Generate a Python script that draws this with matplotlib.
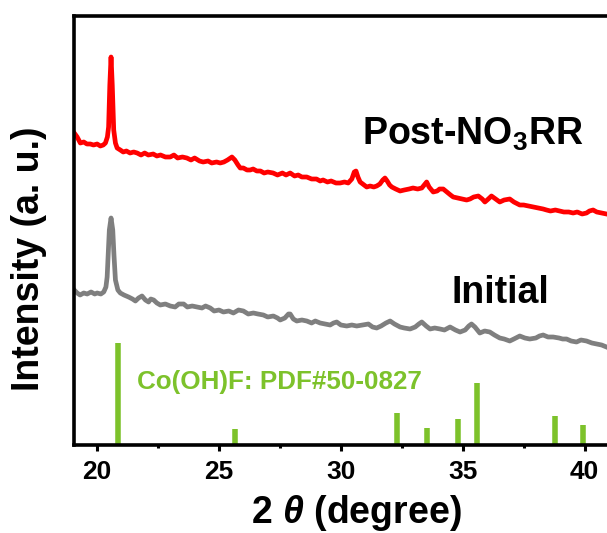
import numpy as np
import matplotlib
matplotlib.use('Agg')
import matplotlib.pyplot as plt

plt.rcParams['font.family'] = ['Liberation Sans', 'DejaVu Sans']
plt.rcParams['font.weight'] = 'bold'
plt.rcParams['mathtext.fontset'] = 'custom'
plt.rcParams['mathtext.rm'] = 'Liberation Sans:bold'
plt.rcParams['mathtext.bf'] = 'Liberation Sans:bold'
plt.rcParams['mathtext.it'] = 'Liberation Sans:italic:bold'

# Post-NO3RR pattern (red)
post_x = [19.06, 19.18, 19.31, 19.45, 19.58, 19.72, 19.85, 20.00, 20.13, 20.25, 20.34, 20.42,
          20.47, 20.52, 20.57, 20.62, 20.68, 20.75, 20.82, 20.95, 21.07, 21.20, 21.35, 21.50,
          21.64, 21.80, 21.95, 22.10, 22.30, 22.45, 22.60, 22.80, 23.00, 23.15, 23.30, 23.50,
          23.68, 23.85, 24.00, 24.20, 24.35, 24.55, 24.70, 24.90, 25.05, 25.20, 25.35, 25.53,
          25.65, 25.78, 25.87, 26.00, 26.15, 26.28, 26.40, 26.55, 26.70, 26.85, 27.00, 27.22,
          27.40, 27.60, 27.75, 27.92, 28.10, 28.25, 28.40, 28.60, 28.80, 29.00, 29.15, 29.27,
          29.45, 29.60, 29.80, 29.97, 30.15, 30.30, 30.45, 30.55, 30.62, 30.70, 30.79, 30.90,
          31.06, 31.20, 31.35, 31.47, 31.60, 31.72, 31.81, 31.90, 32.00, 32.09, 32.25, 32.43,
          32.60, 32.80, 32.96, 33.15, 33.32, 33.42, 33.52, 33.62, 33.79, 33.95, 34.05, 34.20,
          34.35, 34.50, 34.61, 34.80, 35.00, 35.16, 35.30, 35.45, 35.64, 35.80, 35.91, 36.05,
          36.18, 36.35, 36.52, 36.70, 36.93, 37.10, 37.34, 37.50, 37.70, 37.89, 38.10, 38.30,
          38.44, 38.60, 38.80, 38.98, 39.15, 39.35, 39.53, 39.70, 39.90, 40.08, 40.20, 40.35,
          40.50, 40.70, 40.90]
post_y = [312, 308, 302, 303, 301, 301, 300, 301, 299, 300, 302, 308,
          318, 360, 388, 360, 315, 302, 297, 295, 293, 294, 292, 293,
          292, 290, 292, 290, 291, 289, 290, 288, 288, 290, 287, 288,
          287, 285, 287, 284, 283, 284, 282, 283, 282, 283, 285, 288,
          285, 280, 277, 277, 275, 275, 276, 274, 274, 272, 273, 272,
          270, 272, 270, 272, 269, 270, 268, 268, 266, 266, 264, 265,
          263, 264, 262, 262, 263, 262, 266, 273, 274, 268, 263, 261,
          258, 259, 258, 259, 261, 265, 267, 264, 260, 258, 256, 254,
          255, 256, 257, 256, 257, 260, 263, 258, 253, 254, 256, 256,
          253, 250, 248, 247, 246, 245, 246, 248, 249, 246, 243, 246,
          249, 246, 243, 245, 246, 243, 240, 240, 239, 238, 237, 236,
          235, 234, 235, 234, 233, 233, 232, 233, 231, 232, 234, 235,
          233, 232, 231]

# Initial pattern (grey)
init_x = [19.06, 19.18, 19.30, 19.45, 19.59, 19.75, 19.90, 20.00, 20.15, 20.27, 20.36, 20.41,
          20.46, 20.50, 20.57, 20.64, 20.69, 20.75, 20.85, 20.95, 21.10, 21.29, 21.45, 21.57,
          21.70, 21.84, 21.98, 22.11, 22.20, 22.32, 22.45, 22.59, 22.80, 23.00, 23.20, 23.35,
          23.55, 23.70, 23.90, 24.09, 24.30, 24.45, 24.64, 24.80, 25.00, 25.18, 25.40, 25.59,
          25.80, 26.00, 26.20, 26.41, 26.60, 26.82, 27.00, 27.23, 27.40, 27.51, 27.70, 27.85,
          27.92, 28.05, 28.19, 28.40, 28.60, 28.80, 28.95, 29.15, 29.35, 29.56, 29.70, 29.83,
          30.00, 30.24, 30.45, 30.65, 30.90, 31.13, 31.30, 31.47, 31.65, 31.85, 32.02, 32.20,
          32.43, 32.60, 32.84, 33.05, 33.20, 33.32, 33.50, 33.66, 33.85, 34.07, 34.25, 34.48,
          34.70, 34.89, 35.10, 35.25, 35.36, 35.50, 35.70, 35.90, 36.11, 36.30, 36.52, 36.70,
          36.93, 37.10, 37.34, 37.55, 37.75, 38.00, 38.15, 38.30, 38.50, 38.71, 38.95, 39.10,
          39.26, 39.45, 39.67, 39.85, 40.08, 40.30, 40.49, 40.70, 40.90]
init_y = [155, 152, 150, 152, 151, 153, 151, 152, 151, 153, 158, 168,
          195, 215, 227, 215, 190, 165, 155, 152, 150, 148, 146, 144,
          147, 149, 145, 143, 146, 145, 142, 140, 141, 139, 138, 141,
          141, 138, 139, 138, 137, 139, 137, 134, 135, 133, 134, 132,
          135, 134, 131, 132, 131, 130, 128, 129, 127, 125, 127, 131,
          131, 126, 124, 125, 124, 122, 124, 122, 121, 120, 122, 123,
          120, 119, 120, 119, 120, 121, 118, 117, 119, 122, 124, 121,
          118, 117, 116, 118, 121, 123, 119, 116, 117, 116, 115, 118,
          115, 113, 115, 119, 121, 118, 112, 114, 113, 110, 107, 106,
          104, 106, 109, 107, 106, 107, 109, 110, 108, 108, 107, 106,
          106, 104, 103, 105, 104, 102, 101, 100, 98]

# Co(OH)F reference, PDF#50-0827
ref_pos = [20.87, 25.65, 32.30, 33.53, 34.80, 35.58, 38.77, 39.92]
ref_int = [102, 16, 32, 17, 26, 62, 29, 20]

green = '#7DC22B'
W, H = 607, 533

fig = plt.figure(figsize=(W / 100, H / 100), dpi=100)
ax = fig.add_axes([74 / W, 88 / H, 533 / W, 429 / H])

ax.plot(post_x, post_y, color='#FF0000', lw=3.4, solid_joinstyle='round')
ax.plot(init_x, init_y, color='#7F7F7F', lw=3.4, solid_joinstyle='round')
ax.vlines(ref_pos, 0, ref_int, color=green, lw=4)

fig.text(137 / W, (H - 389) / H, 'Co(OH)F: PDF#50-0827', color=green, fontsize=18.7,
         fontweight='bold', va='baseline', ha='left')
fig.text(473 / W, (H - 145) / H, r'Post-NO$_\mathbf{3}$RR', fontsize=27,
         fontweight='bold', va='baseline', ha='center')
fig.text(500 / W, (H - 303) / H, 'Initial', fontsize=27,
         fontweight='bold', va='baseline', ha='center')

ax.set_xlim(19.05, 40.92)
ax.set_ylim(0, 429)
ax.set_xticks([20, 25, 30, 35, 40])
ax.set_xticks([22.5, 27.5, 32.5, 37.5], minor=True)
ax.set_yticks([])
ax.tick_params(axis='x', which='major', direction='out', length=4.5, width=2.2,
               labelsize=19, pad=6)
ax.tick_params(axis='x', which='minor', direction='out', length=2.5, width=2.2)
for lab in ax.get_xticklabels():
    lab.set_fontweight('bold')

for s in ['left', 'bottom', 'top']:
    ax.spines[s].set_linewidth(2.6)
ax.spines['right'].set_visible(False)

fig.text(356 / W, (H - 523) / H, r'2 $\mathit{\theta}$ (degree)', fontsize=27,
         fontweight='bold', va='baseline', ha='center')
fig.text(29 / W, (H - 259) / H, 'Intensity (a. u.)', fontsize=27, fontweight='bold',
         rotation=90, va='center', ha='center')

fig.savefig('out.png', dpi=100)
